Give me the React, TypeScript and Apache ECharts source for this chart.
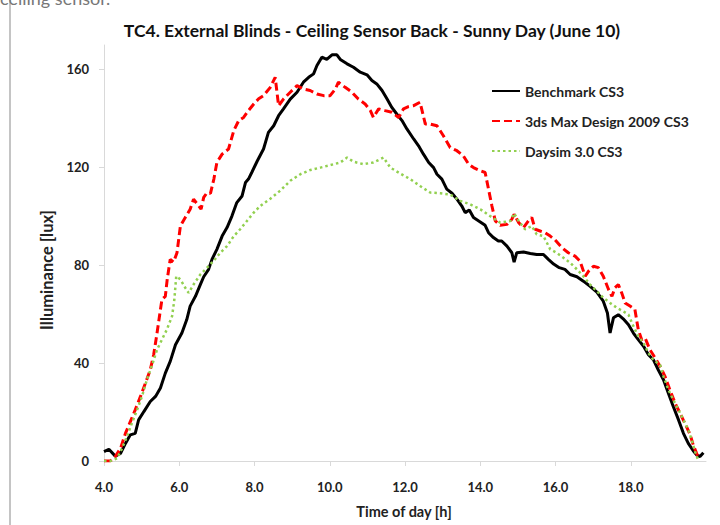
import React, { useEffect, useRef } from "react";
import * as echarts from "echarts";

const titleText = "TC4. External Blinds - Ceiling Sensor Back - Sunny Day (June 10)";
const seriesNames = ["Benchmark CS3", "3ds Max Design 2009 CS3", "Daysim 3.0 CS3"];
const xTickLabels = [4, 6, 8, 10, 12, 14, 16, 18];
const yTickLabels = [0, 40, 80, 120, 160];

const benchT = [4.0,4.13,4.3,4.44,4.57,4.7,4.83,4.92,5.06,5.23,5.37,5.5,5.63,5.76,5.9,6.07,6.2,6.29,6.43,6.56,6.65,6.78,6.87,7.0,7.14,7.27,7.4,7.53,7.67,7.76,7.84,7.93,8.07,8.24,8.37,8.51,8.64,8.77,8.95,9.13,9.3,9.44,9.57,9.66,9.79,9.92,10.06,10.19,10.28,10.46,10.63,10.81,10.99,11.12,11.25,11.39,11.52,11.65,11.78,11.92,12.05,12.23,12.36,12.49,12.63,12.76,12.85,12.98,13.11,13.25,13.38,13.51,13.6,13.71,13.82,14.0,14.13,14.22,14.35,14.48,14.57,14.71,14.84,14.9,14.97,15.15,15.33,15.5,15.68,15.81,15.95,16.1,16.25,16.39,16.57,16.74,16.92,17.1,17.27,17.38,17.45,17.54,17.67,17.8,17.94,18.07,18.2,18.34,18.47,18.6,18.73,18.87,19.0,19.13,19.27,19.4,19.53,19.66,19.75,19.84,19.93];
const benchV = [3.8,4.8,2,3.1,7.2,10.7,11.3,16.8,20.2,24.3,26.4,29.8,35.9,40.7,47.5,52.3,57.8,63.3,67.3,72.1,75.3,78.3,82.4,86.5,91.9,95.4,100.1,105.6,108.3,113.8,115.2,118,122.5,127.5,134.3,137,141.1,143.9,147.9,150.7,154.8,156.8,158.2,161.6,165,164.1,166,166,164.1,162.3,160.9,158.9,157.8,155.5,154.1,151.4,148,144.5,141.8,139.1,135.7,131.6,128.8,125.4,122,119.9,117.2,115.2,111.1,109.4,107,104.2,101.5,102.6,99.5,97.7,96.3,93.3,91.3,89.9,89.9,87.8,85.1,81.3,85.1,85.4,84.8,84.4,84.4,82.4,80.5,79,78.3,76.2,75.3,73.5,71.4,69,65.3,60.5,52.3,58.5,59.8,58.1,55.7,52.3,49.6,46.9,43.4,41.4,37.3,33.2,27.7,22.3,16.8,11.3,7.2,4.2,2.5,1.8,3.4];

const maxT = [4.0,4.17,4.3,4.44,4.57,4.7,4.83,4.97,5.1,5.23,5.32,5.41,5.5,5.54,5.63,5.68,5.76,5.85,5.94,6.03,6.16,6.29,6.38,6.52,6.58,6.65,6.74,6.83,6.92,7.0,7.14,7.31,7.45,7.58,7.71,7.84,7.98,8.11,8.24,8.42,8.55,8.64,8.77,8.95,9.13,9.3,9.48,9.66,9.84,10.01,10.15,10.23,10.41,10.59,10.76,10.94,11.08,11.16,11.3,11.47,11.65,11.83,11.96,12.09,12.23,12.4,12.54,12.67,12.85,13.02,13.2,13.38,13.55,13.69,13.82,14.0,14.13,14.22,14.31,14.4,14.53,14.71,14.84,14.9,15.02,15.15,15.28,15.37,15.46,15.59,15.72,15.86,15.99,16.17,16.34,16.52,16.65,16.79,16.88,17.01,17.14,17.27,17.41,17.5,17.58,17.67,17.76,17.85,17.98,18.11,18.2,18.29,18.38,18.51,18.65,18.78,18.91,19.04,19.18,19.31,19.44,19.58,19.66,19.75,19.82];
const maxV = [0,0,1.8,5.2,11.3,16.1,20.9,26.4,31.8,37.3,43.4,52.3,61.9,66,67.3,74.2,82.4,81.3,85.1,96,99.5,102.9,107,104.2,102.9,107.7,109.7,109.4,115.2,122,125.4,127.5,135,139.1,140.4,143.2,145.9,148,149.3,152.7,156.8,145.2,147.9,150.7,153.4,152,151.4,150,149.3,149.3,152,154.8,152.7,150.7,147.9,145.9,143.2,140.4,143.9,143.2,142.5,140.4,143.9,144.8,145.2,146.6,137.7,137.7,137,132.9,128.1,126.8,124.7,121.3,119.9,118.6,117.9,111.1,104.2,98.1,96.3,96.7,98.8,100.8,97.4,95.4,98.1,99.5,94.7,94,93.3,91.9,90.3,87.2,85.1,83.7,81.7,75.5,77.6,79.6,79,75.5,70.1,67.3,70.8,72.1,68.7,64.6,63.3,61.9,53.7,49.6,50.3,45.5,42.1,38.7,34.6,29.1,23.6,19.5,15.4,10.7,6.6,3.1,0.7];

const daysimT = [4.0,4.17,4.35,4.48,4.61,4.74,4.88,5.01,5.14,5.28,5.41,5.54,5.67,5.81,5.87,5.92,6.03,6.16,6.25,6.38,6.56,6.74,6.91,7.09,7.27,7.45,7.62,7.8,7.98,8.15,8.42,8.68,8.95,9.22,9.48,9.75,10.01,10.28,10.46,10.63,10.9,11.16,11.43,11.61,11.87,12.14,12.4,12.67,12.94,13.2,13.47,13.73,14.0,14.26,14.53,14.8,14.9,15.02,15.19,15.37,15.5,15.68,15.86,16.03,16.21,16.39,16.57,16.74,16.92,17.1,17.27,17.45,17.63,17.8,17.94,18.07,18.2,18.34,18.47,18.6,18.78,18.87,19.0,19.13,19.27,19.4,19.53,19.62,19.71,19.8];
const daysimV = [0,0,1.1,5.2,10,15.4,20.9,26.4,33.2,39.3,45.5,49.6,53.7,59.2,66,75.5,74.2,70.8,68.7,72.1,76.2,79,81.7,85.1,87.8,91.9,94.7,98.1,101.5,104.2,107.2,110.4,114.5,117.2,118.9,119.9,120.9,122,124,122.3,121.3,122,124,119.9,117.5,115.2,112.4,109.7,109.4,108.9,106.3,104.9,102.9,100.1,97.4,98.1,101.2,98.1,94.7,96,92.6,91.9,86.5,85.1,83.1,81,78.3,75.5,72.1,69.4,66.7,64.6,62.6,61.2,59.8,55.1,51,48.2,44.1,41.4,39.3,34.6,29.1,25,20.9,16.8,12.7,8.6,3.8,0];

const FONT = "Lato";

function pairs(t: number[], v: number[]) {
  return t.map((x, i) => [x, v[i]]);
}

export default function App() {
  const ref = useRef<HTMLDivElement>(null);
  useEffect(() => {
    if (!ref.current) return;
    const chart = echarts.init(ref.current, null, { renderer: "svg" });
    const axisGray = "#d9d9d9";
    const labelStyle = { color: "#222", fontFamily: FONT, fontWeight: "bold" as const, fontSize: 13 };
    chart.setOption({
      animation: false,
      backgroundColor: "#ffffff",
      textStyle: { fontFamily: FONT },
      grid: { left: 104, right: 14, top: 45, bottom: 64, containLabel: false },
      title: {
        text: titleText,
        left: 367,
        top: 16,
        textAlign: "center",
        textStyle: { fontFamily: FONT, fontWeight: "bold", fontSize: 17.5, color: "#111" },
      },
      legend: {
        orient: "vertical",
        left: 486,
        top: 79,
        itemWidth: 28,
        itemHeight: 14,
        itemGap: 16,
        itemStyle: { opacity: 0 },
        textStyle: { fontFamily: FONT, fontWeight: "bold", fontSize: 14, color: "#222" },
        data: seriesNames,
      },
      xAxis: {
        type: "value",
        min: 4,
        max: 20,
        interval: 2,
        axisLine: { show: true, lineStyle: { color: axisGray, width: 1 } },
        axisTick: { show: true, length: 5, lineStyle: { color: axisGray }, customValues: xTickLabels },
        axisLabel: {
          ...labelStyle,
          margin: 19,
          customValues: xTickLabels,
          formatter: (v: number) => v.toFixed(1),
        },
        splitLine: { show: false },
      },
      yAxis: {
        type: "value",
        min: 0,
        max: 170,
        interval: 40,
        axisLine: { show: true, lineStyle: { color: axisGray, width: 1 } },
        axisTick: { show: true, length: 5, lineStyle: { color: axisGray }, customValues: yTickLabels },
        axisLabel: { ...labelStyle, margin: 15, customValues: yTickLabels },
        splitLine: { show: false },
      },
      graphic: [
        { type: "line", shape: { x1: 10, y1: 0, x2: 10, y2: 525 }, style: { stroke: "#c4c4c4", lineWidth: 2 } },
        { type: "text", x: 0, y: -11, style: { text: "ceiling sensor.", fontFamily: FONT, fontSize: 18, fill: "#777" } },
        {
          type: "text",
          x: 47,
          y: 270,
          rotation: Math.PI / 2,
          style: { text: "Illuminance [lux]", fontFamily: FONT, fontWeight: "bold", fontSize: 16.5, fill: "#222", align: "center", verticalAlign: "middle" },
        },
        {
          type: "text",
          x: 404,
          y: 511,
          style: { text: "Time of day [h]", fontFamily: FONT, fontWeight: "bold", fontSize: 14.5, fill: "#222", align: "center", verticalAlign: "middle" },
        },
      ],
      series: [
        {
          name: seriesNames[1],
          type: "line",
          data: pairs(maxT, maxV),
          showSymbol: false,
          symbol: "none",
          lineStyle: { color: "#ff0000", width: 3, type: [8, 4] },
          itemStyle: { color: "#ff0000" },
          z: 3,
        },
        {
          name: seriesNames[2],
          type: "line",
          data: pairs(daysimT, daysimV),
          showSymbol: false,
          symbol: "none",
          lineStyle: { color: "#92d050", width: 2.5, type: [2.5, 3] },
          itemStyle: { color: "#92d050" },
          z: 4,
        },
        {
          name: seriesNames[0],
          type: "line",
          data: pairs(benchT, benchV),
          showSymbol: false,
          symbol: "none",
          lineStyle: { color: "#000000", width: 3 },
          itemStyle: { color: "#000000" },
          z: 2,
        },
      ],
    });
    return () => chart.dispose();
  }, []);
  return <div ref={ref} style={{ position: "fixed", left: 0, top: 0, width: 720, height: 525 }} />;
}
